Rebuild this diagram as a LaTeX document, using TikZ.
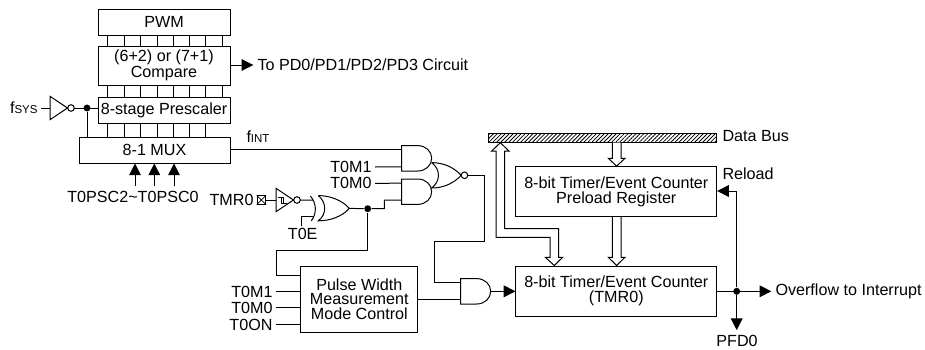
\documentclass[tikz,border=0pt]{standalone}
\usepackage{fontspec}
\setmainfont{Liberation Sans}
\usetikzlibrary{positioning,shapes,arrows.meta,patterns.meta,calc}

\newcommand{\subsz}{\fontsize{8.6}{9}\selectfont}

\begin{document}
\begin{tikzpicture}[x=0.75pt,y=-0.75pt,line width=0.75pt,
 font=\fontsize{12.1}{10.9}\selectfont,
 every node/.style={inner sep=0pt},
 block/.style={draw,align=center,minimum width=99pt},
 flow/.style={-{Triangle[length=8.8pt,width=8.8pt]}},
 bus/.style={draw,fill=white},
 dot/.style={circle,fill,minimum size=5.2pt},
 andgate/.pic={
  \draw (0,-12.7) -- (16,-12.7) .. controls (24,-12.7) and (30,-7) .. (30,0)
     .. controls (30,7) and (24,12.7) .. (16,12.7) -- (0,12.7) -- cycle;
  \coordinate (-in1) at (0,-8.5); \coordinate (-in2) at (0,8.5); \coordinate (-out) at (30,0);},
 norgate/.pic={
  \draw (0,-12.7) .. controls (13,-12.7) and (23,-7) .. (29.5,0) .. controls (23,7) and (13,12.7) .. (0,12.7)
     .. controls (9,6) and (9,-6) .. (0,-12.7);
  \draw (32.8,0) circle (3.3);
  \coordinate (-out) at (36.1,0);},
 xorgate/.pic={
  \draw (0,-12.8) .. controls (12,-12.8) and (24,-8) .. (31,0) .. controls (24,8) and (12,12.4) .. (0,12.4)
     .. controls (8.5,6) and (8.5,-6) .. (0,-12.8);
  \draw (-8,-12.4) .. controls (-2,-6) and (-1,5) .. (-7,12.4);
  \coordinate (-in1) at (-5,-8.3); \coordinate (-in2) at (-4,7.7); \coordinate (-out) at (31,0);},
 invgate/.pic={
  \draw (0,-11.7) -- (17.5,0) -- (0,11.7) -- cycle;
  \draw (21,0) circle (3.3);
  \coordinate (-in) at (0,0); \coordinate (-out) at (24.3,0);}]

 \useasboundingbox (0,0) rectangle (925,350);

 % left stack
 \node[block,minimum height=19.5pt] (pwm) at (164,22) {PWM};
 \node[block,minimum height=29.25pt,below=7.5pt of pwm] (cmp) {(6+2) or (7+1)\\Compare};
 \node[block,minimum height=19.5pt,below=8.25pt of cmp] (pre) {8-stage Prescaler};
 \node[block,minimum width=113.25pt,minimum height=19.5pt] (mux) at (154.5,150) {8-1 MUX};
 \foreach \x in {107,124,140,157,173,189,205,222} {
  \draw (pwm.south -| \x,0) -- (cmp.north -| \x,0);
  \draw (cmp.south -| \x,0) -- (pre.north -| \x,0);
 }
 \foreach \x in {107,124,140,157,173,189,205}
  \draw (pre.south -| \x,0) -- (mux.north -| \x,0);

 \node[anchor=west] (pdout) at (257,65) {To PD0/PD1/PD2/PD3 Circuit};
 \draw[flow,shorten >=2.8pt] (cmp.east |- pdout) -- (pdout.west);

 \node[anchor=east] (fsys) at (38,108) {f\subsz SYS};
 \pic (clkinv) at (50,108) {invgate};
 \draw (fsys.east) ++(3,0) -- (clkinv-in);
 \draw (clkinv-out) -- (pre.west |- clkinv-out);
 \node[dot] (clkdot) at (87,108) {};
 \draw (clkdot) -- (clkdot |- mux.north);

 \node (psc) at (133,197) {T0PSC2\textasciitilde T0PSC0};
 \foreach \x in {135,154.3,174}
  \draw[flow,shorten <=3.5pt] (psc.north -| \x,0) -- (mux.south -| \x,0);

 % gates
 \pic (anda) at (401.7,158.3) {andgate};
 \pic (andb) at (401.7,191.7) {andgate};
 \pic (norg) at (431.7,175.3) {norgate};
 \pic (andc) at (460.7,291.3) {andgate};

 \node[anchor=west] (fint) at (246,137) {f\subsz INT};
 \draw (mux.east |- anda-in1) -- (anda-in1);
 \node[anchor=east] (ma) at (372,167) {T0M1};
 \node[anchor=east] (mb) at (372,183.3) {T0M0};
 \draw (ma.east) ++(3,0) -- (anda-in2);
 \draw (mb.east) ++(3,0) -- (andb-in1);

 % TMR0 pin
 \node[anchor=east] (tmr) at (254,200) {TMR0};
 \node[draw,minimum size=6.2pt,anchor=west] (pin) at (256.7,200) {};
 \draw[line width=0.5pt] (pin.north west) -- (pin.south east) (pin.north east) -- (pin.south west);
 \pic (tmrinv) at (276,200) {invgate};
 \draw[line width=0.5pt] ($(tmrinv-in)+(2.3,-2.7)$) -- ++(5,0) -- ++(0,5.7) ++(-2.2,0) -- ++(0,-5.7) ++(0,5.7) -- ++(5.5,0);
 \pic (xorg) at (318.3,208.4) {xorgate};
 \draw (pin.east) -- (tmrinv-in);
 \draw (tmrinv-out) -- (xorg-in1);
 \node (toe) at (302.7,233.7) {T0E};
 \draw (toe.north -| 301.7,0) ++(0,-1) |- (xorg-in2);

 \node[dot] (xdot) at (367.7,208.7) {};
 \draw (xorg-out) -- (xdot) -- (384.3,208.7) |- (andb-in2);

 % pulse width block
 \node[block,minimum width=87.5pt,minimum height=49.7pt] (pw) at (359.3,299.2) {Pulse Width\\Measurement\\Mode Control};
 \draw (xdot) |- (276.7,250) |- (pw.west |- 0,275);
 \node[anchor=east] (pa) at (273,291.7) {T0M1};
 \node[anchor=east] (pb) at (273,307.7) {T0M0};
 \node[anchor=east] (pc) at (273,324.7) {T0ON};
 \foreach \n in {pa,pb,pc}
  \draw (\n.east) ++(3,0) -- (pw.west |- \n.east);
 \draw (pw.east |- andc-in2) -- (andc-in2);
 \draw (norg-out) -| (484,241.3) -| (434.3,282.8) -- (andc-in1);

 % timer blocks
 \node[block,minimum width=150.5pt,minimum height=37.5pt] (cnt) at (616.3,291) {8-bit Timer/Event Counter\\(TMR0)};
 \node[block,minimum width=150.5pt,minimum height=37.5pt] (pld) at (616.3,191.7) {8-bit Timer/Event Counter\\Preload Register};
 \draw[flow] (andc-out) -- (cnt.west |- andc-out);

 % data bus
 \node[draw,minimum width=171pt,minimum height=6.8pt,pattern={Lines[angle=45,distance=2.1pt,line width=0.6pt]}] (dbus) at (602.7,137.8) {};
 \node[anchor=west] (dlab) at (722,136) {Data Bus};

 \draw[bus] (dbus.south -| 612.3,0) -- (612.3,158.3) -- (608.3,158.3) -- (pld.north -| 616.6,0) -- (625,158.3) -- (621,158.3) -- (dbus.south -| 621,0);
 \draw[bus] (pld.south -| 612.3,0) -- (612.3,257.3) -- (608.3,257.3) -- (cnt.north -| 616.6,0) -- (625,257.3) -- (621,257.3) -- (pld.south -| 621,0);
 \draw[bus] (dbus.south -| 500.3,0) -- (509,151) -- (504.7,151) -- (504.7,228.7) -- (558.7,228.7) -- (558.7,257.3) -- (562.7,257.3)
   -- (cnt.north -| 554.3,0) -- (545.3,257.3) -- (550,257.3) -- (550,237.3) -- (496,237.3) -- (496,151) -- (491.7,151) -- cycle;

 % outputs
 \node[dot] (ovdot) at (736.7,291.3) {};
 \node[anchor=west] (ovf) at (775,291.3) {Overflow to Interrupt};
 \node (pfd) at (737,341) {PFD0};
 \node[anchor=west] (rel) at (722,174) {Reload};
 \draw[flow,shorten >=2.8pt] (cnt.east |- ovdot) -- (ovf.west);
 \draw[flow,shorten >=3.5pt] (ovdot) -- (ovdot |- pfd.north);
 \draw[flow] (ovdot) |- (pld.east |- 0,191);
\end{tikzpicture}
\end{document}
